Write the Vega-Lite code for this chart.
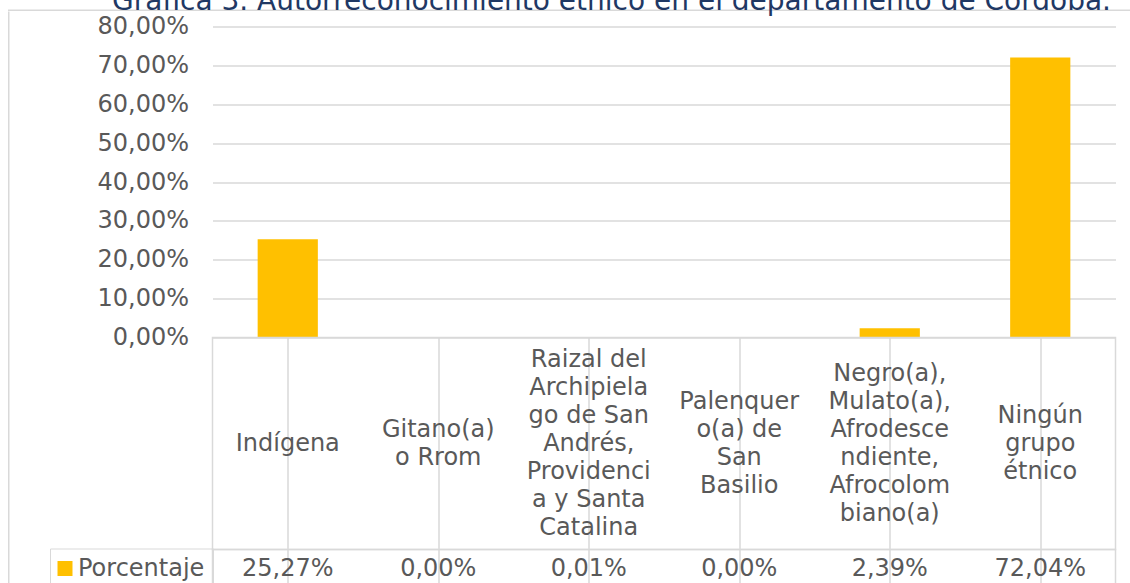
{
  "$schema": "https://vega.github.io/schema/vega-lite/v6.json",
  "background": "white",
  "padding": {"left": 8, "top": -12.5, "right": 0, "bottom": 0},
  "bounds": "flush",
  "spacing": 0,
  "title": {
    "text": "Gráfica 3. Autorreconocimiento étnico en el departamento de Córdoba.",
    "font": "DejaVu Sans",
    "fontSize": 28,
    "fontWeight": "normal",
    "color": "#1F3864",
    "anchor": "middle",
    "frame": "bounds",
    "dx": 41,
    "offset": -6
  },
  "config": {
    "locale": {"number": {"decimal": ",", "thousands": ".", "grouping": [3], "currency": ["", " €"]}},
    "view": {"stroke": null},
    "font": "DejaVu Sans"
  },
  "datasets": {
    "etnias": [
      {"grupo": "Indígena", "etiqueta": ["Indígena"], "porcentaje": 0.2527, "serie": "Porcentaje"},
      {"grupo": "Gitano(a) o Rrom", "etiqueta": ["Gitano(a)", "o Rrom"], "porcentaje": 0.0, "serie": "Porcentaje"},
      {"grupo": "Raizal del Archipielago de San Andrés, Providencia y Santa Catalina", "etiqueta": ["Raizal del", "Archipiela", "go de San", "Andrés,", "Providenci", "a y Santa", "Catalina"], "porcentaje": 0.0001, "serie": "Porcentaje"},
      {"grupo": "Palenquero(a) de San Basilio", "etiqueta": ["Palenquer", "o(a) de", "San", "Basilio"], "porcentaje": 0.0, "serie": "Porcentaje"},
      {"grupo": "Negro(a), Mulato(a), Afrodescendiente, Afrocolombiano(a)", "etiqueta": ["Negro(a),", "Mulato(a),", "Afrodesce", "ndiente,", "Afrocolom", "biano(a)"], "porcentaje": 0.0239, "serie": "Porcentaje"},
      {"grupo": "Ningún grupo étnico", "etiqueta": ["Ningún", "grupo", "étnico"], "porcentaje": 0.7204, "serie": "Porcentaje"}
    ],
    "vacio": []
  },
  "vconcat": [
    {
      "width": 1125,
      "height": 1.5,
      "view": {"fill": "#d9d9d9", "stroke": null},
      "data": {"name": "vacio"},
      "mark": {"type": "point"},
      "encoding": {}
    },
    {
      "bounds": "flush",
      "spacing": 202.5,
      "hconcat": [
        {
          "width": 1.5,
          "height": 575,
          "view": {"fill": "#d9d9d9", "stroke": null},
          "data": {"name": "vacio"},
          "mark": {"type": "point"},
          "encoding": {}
        },
        {
          "bounds": "flush",
          "spacing": 0,
          "vconcat": [
            {
              "width": 903,
              "height": 14.5,
              "data": {"name": "vacio"},
              "mark": {"type": "point"},
              "encoding": {}
            },
            {
              "width": 903,
              "height": 311,
              "data": {"name": "etnias"},
              "mark": {"type": "bar"},
              "encoding": {
                "x": {"field": "grupo", "type": "nominal", "sort": null, "scale": {"paddingInner": 0.6, "paddingOuter": 0.3}, "axis": null},
                "y": {
                  "field": "porcentaje", "type": "quantitative",
                  "scale": {"domain": [0, 0.8]},
                  "axis": {
                    "values": [0, 0.1, 0.2, 0.3, 0.4, 0.5, 0.6, 0.7, 0.8],
                    "format": ".2%",
                    "title": null,
                    "domain": false,
                    "ticks": false,
                    "grid": true,
                    "gridColor": "#d9d9d9",
                    "gridWidth": 1.5,
                    "labelFont": "DejaVu Sans",
                    "labelFontSize": 24,
                    "labelColor": "#595959",
                    "labelPadding": 24
                  }
                },
                "color": {
                  "field": "serie", "type": "nominal",
                  "scale": {"range": ["#FFC000"]},
                  "legend": {
                    "orient": "none",
                    "legendX": 42,
                    "legendY": 539,
                    "title": null,
                    "symbolType": "square",
                    "symbolSize": 225,
                    "symbolStrokeWidth": 0,
                    "symbolOffset": -5,
                    "labelFont": "DejaVu Sans",
                    "labelFontSize": 24,
                    "labelColor": "#595959",
                    "labelOffset": 1,
                    "strokeColor": "#d9d9d9",
                    "padding": 8
                  }
                }
              }
            },
            {
              "width": 903,
              "height": 212,
              "view": {"stroke": "#d9d9d9", "strokeWidth": 1.5},
              "data": {"name": "etnias"},
              "mark": {"type": "text", "lineHeight": 28, "fontSize": 24, "font": "DejaVu Sans", "color": "#595959", "baseline": "middle", "align": "center", "dy": {"expr": "-14 * (length(datum.etiqueta) - 1)"}},
              "encoding": {
                "x": {
                  "field": "grupo", "type": "nominal", "sort": null,
                  "scale": {"paddingInner": 0, "paddingOuter": 0},
                  "axis": {"title": null, "labels": false, "ticks": false, "domain": false, "grid": true, "bandPosition": 0, "gridColor": "#d9d9d9", "gridWidth": 1.5}
                },
                "text": {"field": "etiqueta", "type": "nominal"}
              }
            },
            {
              "width": 903,
              "height": 38,
              "view": {"stroke": "#d9d9d9", "strokeWidth": 1.5},
              "data": {"name": "etnias"},
              "mark": {"type": "text", "fontSize": 24, "font": "DejaVu Sans", "color": "#595959", "baseline": "middle", "align": "center"},
              "encoding": {
                "x": {
                  "field": "grupo", "type": "nominal", "sort": null,
                  "scale": {"paddingInner": 0, "paddingOuter": 0},
                  "axis": {"title": null, "labels": false, "ticks": false, "domain": false, "grid": true, "bandPosition": 0, "gridColor": "#d9d9d9", "gridWidth": 1.5}
                },
                "text": {"field": "porcentaje", "type": "quantitative", "format": ".2%"}
              }
            }
          ]
        }
      ]
    }
  ]
}
